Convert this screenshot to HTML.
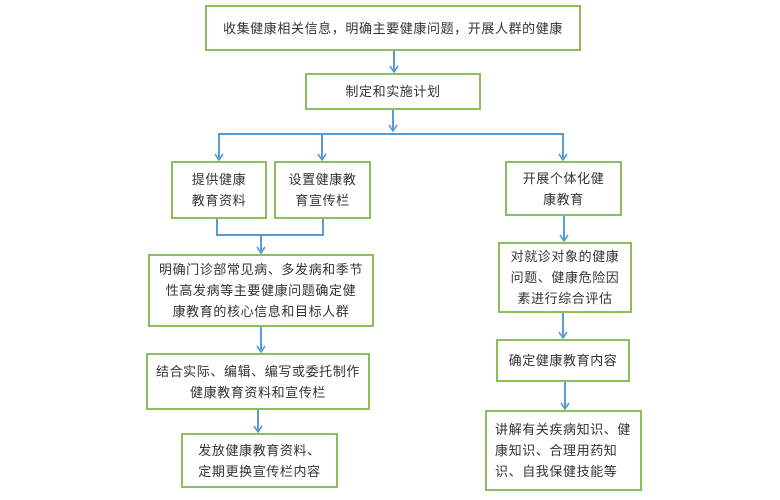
<!DOCTYPE html>
<html><head><meta charset="utf-8"><style>
body{margin:0;width:780px;height:500px;background:#fff;position:relative;overflow:hidden;font-family:"Liberation Sans","Noto Sans CJK SC",sans-serif;}
.b{position:absolute;box-sizing:border-box;border:2px solid #8cbf5c;display:flex;align-items:center;justify-content:center;text-align:center;font-size:13px;line-height:21px;color:#333;letter-spacing:0.6px;}
svg{position:absolute;left:0;top:0}
</style></head><body>
<svg width="780" height="500">
<defs><marker id="a" markerWidth="10" markerHeight="10" refX="7" refY="5" orient="auto" markerUnits="userSpaceOnUse"><path d="M1,1 L7,5 L1,9" fill="none" stroke="#5b9bd5" stroke-width="1.6"/></marker></defs>
<g stroke="#5b9bd5" stroke-width="2" fill="none">
<line x1="394" y1="50" x2="394" y2="72" marker-end="url(#a)"/>
<line x1="393" y1="109" x2="393" y2="131" marker-end="url(#a)"/>
<polyline points="219,160 219,134 563,134 563,160"/>
<line x1="219" y1="134" x2="219" y2="160" marker-end="url(#a)"/>
<line x1="322" y1="134" x2="322" y2="160" marker-end="url(#a)"/>
<line x1="563" y1="134" x2="563" y2="160" marker-end="url(#a)"/>
<polyline points="217,218 217,235 323,235 323,218"/>
<line x1="261" y1="235" x2="261" y2="253" marker-end="url(#a)"/>
<line x1="261" y1="326" x2="261" y2="352" marker-end="url(#a)"/>
<line x1="258" y1="409" x2="258" y2="432" marker-end="url(#a)"/>
<line x1="564" y1="215" x2="564" y2="241" marker-end="url(#a)"/>
<line x1="563" y1="312" x2="563" y2="338" marker-end="url(#a)"/>
<line x1="565" y1="381" x2="565" y2="409" marker-end="url(#a)"/>
</g></svg>
<div class="b" style="left:205px;top:5px;width:376px;height:46px">收集健康相关信息，明确主要健康问题，开展人群的健康</div>
<div class="b" style="left:305px;top:73px;width:176px;height:37px">制定和实施计划</div>
<div class="b" style="left:171px;top:161px;width:96px;height:58px">提供健康<br>教育资料</div>
<div class="b" style="left:274px;top:161px;width:97px;height:58px">设置健康教<br>育宣传栏</div>
<div class="b" style="left:505px;top:161px;width:117px;height:55px">开展个体化健<br>康教育</div>
<div class="b" style="left:148px;top:254px;width:226px;height:73px">明确门诊部常见病、多发病和季节<br>性高发病等主要健康问题确定健<br>康教育的核心信息和目标人群</div>
<div class="b" style="left:146px;top:353px;width:224px;height:57px">结合实际、编辑、编写或委托制作<br>健康教育资料和宣传栏</div>
<div class="b" style="left:181px;top:433px;width:157px;height:55px">发放健康教育资料、<br>定期更换宣传栏内容</div>
<div class="b" style="left:498px;top:242px;width:134px;height:71px">对就诊对象的健康<br>问题、健康危险因<br>素进行综合评估</div>
<div class="b" style="left:496px;top:339px;width:134px;height:43px">确定健康教育内容</div>
<div class="b" style="left:485px;top:410px;width:157px;height:81px;justify-content:flex-start;text-align:left;padding-left:8px">讲解有关疾病知识、健<br>康知识、合理用药知<br>识、自我保健技能等</div>
</body></html>
